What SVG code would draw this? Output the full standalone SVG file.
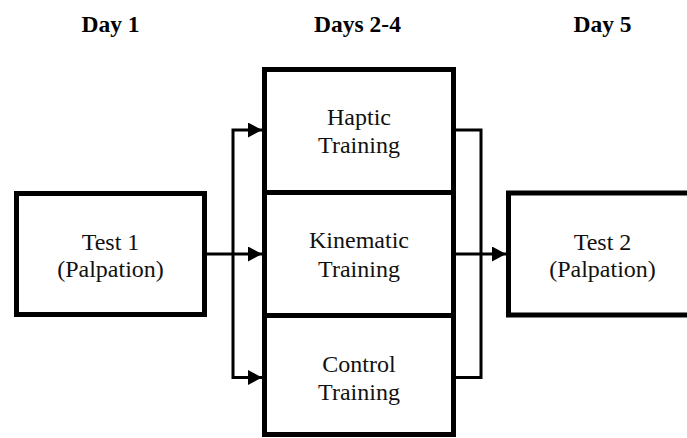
<svg xmlns="http://www.w3.org/2000/svg" width="687" height="438" viewBox="0 0 687 438">
<style>
.box{fill:#fff;stroke:#000;stroke-width:5}
.con{fill:none;stroke:#000;stroke-width:3}
.lbl{font-family:"Liberation Serif","Times New Roman",serif;font-size:24px;fill:#111;text-anchor:middle}
.hdr{font-family:"Liberation Serif","Times New Roman",serif;font-size:23.5px;font-weight:bold;fill:#000;text-anchor:middle}
</style>
<defs>
<marker id="arr" markerUnits="userSpaceOnUse" markerWidth="15" markerHeight="16" refX="14" refY="7.5" orient="auto">
<path d="M0,0 L14,7.5 L0,15 z" fill="#000"/>
</marker>
</defs>
<rect width="687" height="438" fill="#fff"/>
<g id="headers">
<text class="hdr" x="110.5" y="32">Day 1</text>
<text class="hdr" x="357.5" y="32">Days 2-4</text>
<text class="hdr" x="602.5" y="32">Day 5</text>
</g>
<g id="connectors">
<path class="con" d="M207,254 H262" marker-end="url(#arr)"/>
<path class="con" d="M233,254 V130 H262" marker-end="url(#arr)"/>
<path class="con" d="M233,254 V377.5 H262" marker-end="url(#arr)"/>
<path class="con" d="M456,130 H481 V377.5 H456"/>
<path class="con" d="M456,254 H506" marker-end="url(#arr)"/>
</g>
<g id="test1">
<rect class="box" x="16.5" y="193.5" width="188" height="121"/>
<text class="lbl" x="110.5" y="250">Test 1</text>
<text class="lbl" x="110.5" y="277">(Palpation)</text>
</g>
<g id="haptic">
<rect class="box" x="264.5" y="69.5" width="189" height="123"/>
<text class="lbl" x="359" y="125">Haptic</text>
<text class="lbl" x="359" y="153">Training</text>
</g>
<g id="kinematic">
<rect class="box" x="264.5" y="192.5" width="189" height="123"/>
<text class="lbl" x="359" y="248">Kinematic</text>
<text class="lbl" x="359" y="277">Training</text>
</g>
<g id="control">
<rect class="box" x="264.5" y="315.5" width="189" height="119"/>
<text class="lbl" x="359" y="372">Control</text>
<text class="lbl" x="359" y="400">Training</text>
</g>
<g id="test2">
<rect class="box" x="508.5" y="193" width="189" height="122"/>
<text class="lbl" x="602.5" y="250">Test 2</text>
<text class="lbl" x="602.5" y="277">(Palpation)</text>
</g>
</svg>
